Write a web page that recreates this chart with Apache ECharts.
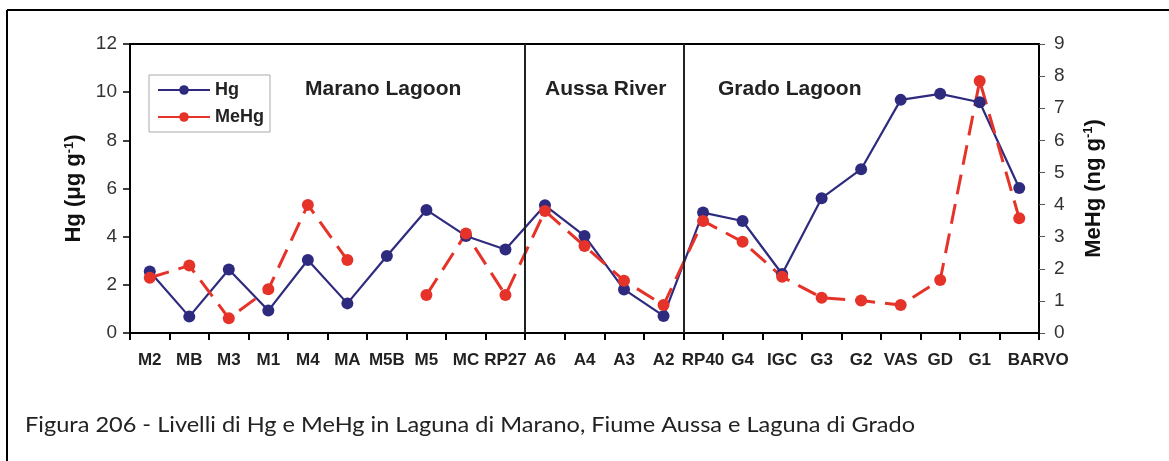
<!DOCTYPE html>
<html>
<head>
<meta charset="utf-8">
<script src="https://cdn.jsdelivr.net/npm/echarts@6/dist/echarts.min.js"></script>
<style>
html,body{margin:0;padding:0;background:#fff;}
#chart{width:1169px;height:461px;}
</style>
</head>
<body>
<div id="chart"></div>
<script>
const categories = ['M2','MB','M3','M1','M4','MA','M5B','M5','MC','RP27','A6','A4','A3','A2','RP40','G4','IGC','G3','G2','VAS','GD','G1','BARVO'];
const hgValues = [2.55,0.68,2.64,0.93,3.03,1.23,3.2,5.11,4.03,3.47,5.3,4.03,1.81,0.71,5.0,4.65,2.45,5.6,6.8,9.68,9.93,9.58,6.02];
const mehgValues = [1.72,2.1,0.46,1.36,3.99,2.27,null,1.18,3.1,1.18,3.8,2.71,1.63,0.87,3.49,2.84,1.75,1.1,1.01,0.87,1.65,7.85,3.57];
const sectionBounds = [10, 14];
const sectionNames = ['Marano Lagoon','Aussa River','Grado Lagoon'];
const leftTicks = {min:0, max:12, interval:2};
const rightTicks = {min:0, max:9, interval:1};
const caption = 'Figura 206 - Livelli di Hg e MeHg in Laguna di Marano, Fiume Aussa e Laguna di Grado';

const chart = echarts.init(document.getElementById('chart'));
const navy = '#2E2B7F';
const red = '#E6332A';
const font = 'Liberation Sans, Arial, sans-serif';
const lastCat = categories[categories.length-1];

chart.setOption({
  animation:false,
  backgroundColor:'#fff',
  grid:{left:130,right:130,top:44,bottom:128,show:true,borderColor:'#000',borderWidth:2,backgroundColor:'transparent'},
  legend:{
    orient:'vertical', left:149, top:75,
    padding:[6,6,6,8], itemGap:9, itemWidth:52, itemHeight:12,
    borderColor:'#aaa', borderWidth:1,
    textStyle:{fontFamily:font,fontWeight:'bold',fontSize:18,color:'#222'},
    data:[{name:'Hg'},{name:'MeHg',lineStyle:{type:'solid'}}]
  },
  xAxis:[{
    type:'category', data:categories, boundaryGap:true,
    axisLine:{lineStyle:{color:'#000',width:2}},
    axisTick:{show:true,length:7,lineStyle:{color:'#000',width:2}},
    axisLabel:{interval:0,margin:19,fontFamily:font,fontWeight:'bold',fontSize:17,color:'#222',
      formatter:function(v){return v===lastCat ? '{shift|'+v+'}' : v;},
      rich:{shift:{fontFamily:font,fontWeight:'bold',fontSize:17,color:'#222',padding:[0,0,0,38]}}}
  },{
    type:'value', min:0, max:categories.length, show:false
  }],
  yAxis:[{
    type:'value', position:'left', min:leftTicks.min, max:leftTicks.max, interval:leftTicks.interval,
    splitLine:{show:false},
    axisLine:{show:true,lineStyle:{color:'#000',width:2}},
    axisTick:{show:true,length:7,lineStyle:{color:'#000',width:1.5}},
    axisLabel:{margin:13,fontFamily:font,fontSize:19,color:'#333'},
    name:'{a|Hg (μg g}{s|-1}{a|)}', nameLocation:'middle', nameGap:37, nameRotate:90,
    nameTextStyle:{rich:{a:{fontFamily:font,fontWeight:'bold',fontSize:22,color:'#111'},s:{fontFamily:font,fontWeight:'bold',fontSize:13,color:'#111',verticalAlign:'top',padding:[0,0,10,0]}}}
  },{
    type:'value', position:'right', min:rightTicks.min, max:rightTicks.max, interval:rightTicks.interval,
    splitLine:{show:false},
    axisLine:{show:true,lineStyle:{color:'#000',width:2}},
    axisTick:{show:true,length:6,lineStyle:{color:'#555',width:1}},
    axisLabel:{margin:15,fontFamily:font,fontSize:19,color:'#333'},
    name:'{a|MeHg (ng g}{s|-1}{a|)}', nameLocation:'middle', nameGap:43, nameRotate:90,
    nameTextStyle:{rich:{a:{fontFamily:font,fontWeight:'bold',fontSize:22,color:'#111'},s:{fontFamily:font,fontWeight:'bold',fontSize:13,color:'#111',verticalAlign:'top',padding:[0,0,10,0]}}}
  }],
  series:[{
    name:'sep', type:'line', xAxisIndex:1, yAxisIndex:0, data:[], silent:true,
    markLine:{silent:true,symbol:'none',label:{show:false},
      lineStyle:{color:'#222',width:2,type:'solid'},
      data:sectionBounds.map(v=>({xAxis:v}))}
  },{
    name:'Hg', type:'line', data:hgValues, yAxisIndex:0,
    symbol:'circle', symbolSize:12,
    lineStyle:{color:navy,width:2.2},
    itemStyle:{color:navy}
  },{
    name:'MeHg', type:'line', data:mehgValues, yAxisIndex:1, connectNulls:false,
    symbol:'circle', symbolSize:12,
    lineStyle:{color:red,width:3,type:[20,10]},
    itemStyle:{color:red}
  }],
  graphic:[
    {type:'line',shape:{x1:7,y1:10,x2:1169,y2:10},style:{stroke:'#000',lineWidth:2}},
    {type:'line',shape:{x1:7,y1:10,x2:7,y2:461},style:{stroke:'#000',lineWidth:2}},
    {type:'text',left:305,top:79,style:{text:sectionNames[0],font:'bold 21px '+font,fill:'#222'}},
    {type:'text',left:545,top:79,style:{text:sectionNames[1],font:'bold 21px '+font,fill:'#222'}},
    {type:'text',left:718,top:79,style:{text:sectionNames[2],font:'bold 21px '+font,fill:'#222'}},
    {type:'text',x:25,y:414,scaleX:1.07,style:{text:caption,font:'22px Lato, sans-serif',fill:'#222'}}
  ]
});
</script>
</body>
</html>
